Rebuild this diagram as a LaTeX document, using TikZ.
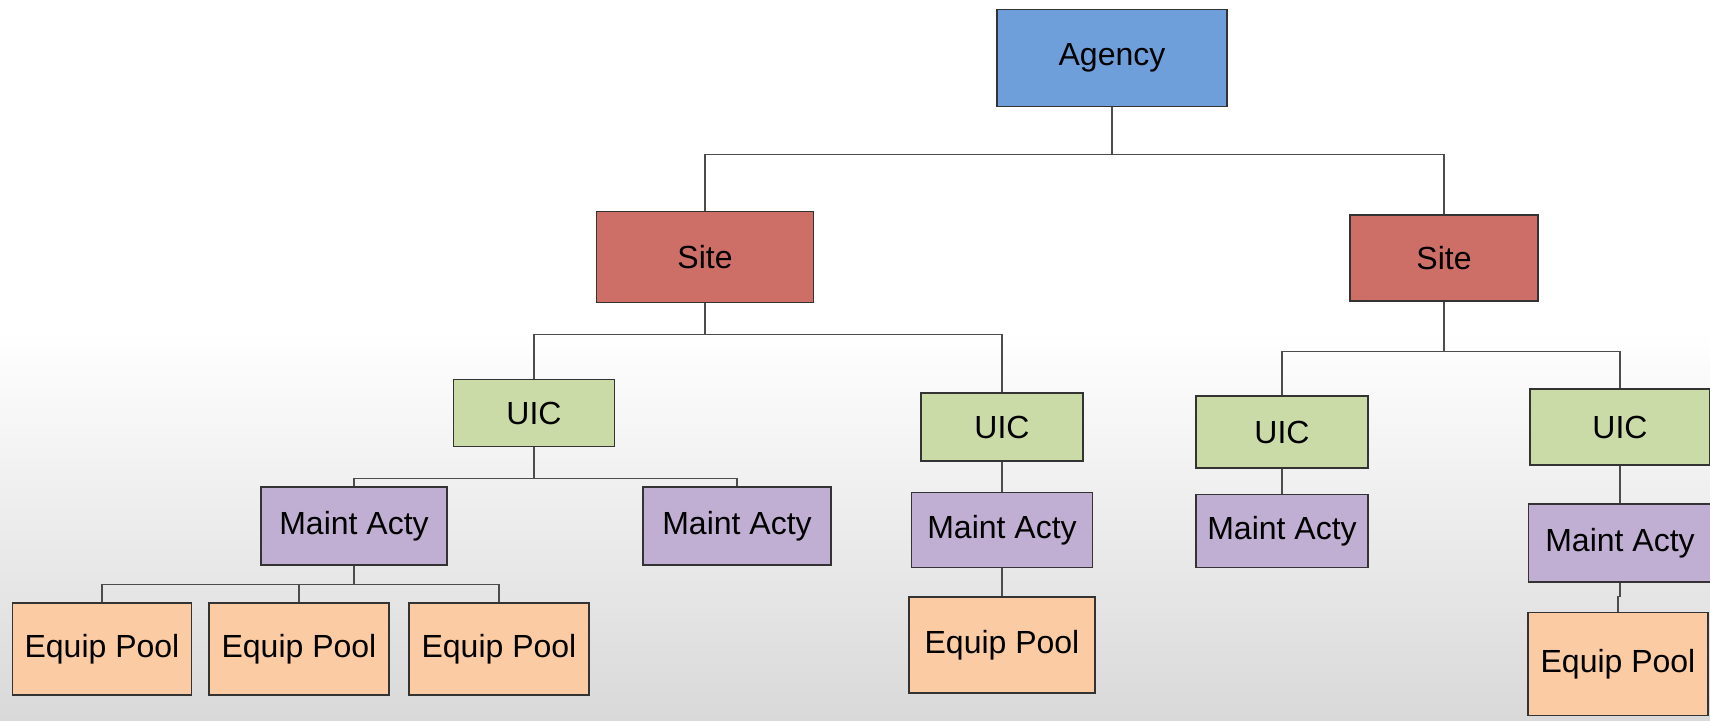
\documentclass[tikz,border=0pt]{standalone}
\usepackage{fontspec}
\setmainfont{Liberation Sans}
\definecolor{agencyblue}{HTML}{6E9FDB}
\definecolor{sitered}{HTML}{CD6F67}
\definecolor{uicgreen}{HTML}{CBDBA8}
\definecolor{actypurple}{HTML}{C0AFD2}
\definecolor{poolorange}{HTML}{FBCBA4}
\tikzset{
  box/.style={draw=black!80, line width=0.7pt, inner sep=0pt, font=\fontsize{16}{19}\selectfont},
  agencybox/.style={box, fill=agencyblue},
  sitebox/.style={box, fill=sitered},
  uicbox/.style={box, fill=uicgreen},
  actybox/.style={box, fill=actypurple},
  poolbox/.style={box, fill=poolorange},
  link/.style={draw=black!70, line width=0.6pt}
}
\begin{document}
\begin{tikzpicture}[x=0.5pt, y=-0.5pt]
      \useasboundingbox (0,0) rectangle (1710,721);
      \fill[white] (0,0) rectangle (1710,330);
      \shade[top color=white, bottom color=gray!30] (0,330) rectangle (1710,721);

      % top and sites
      \node[agencybox, minimum width=115pt, minimum height=48.5pt] (agency) at (1112,58) {Agency};
      \node[sitebox, minimum width=108.5pt, minimum height=45.5pt] (siteA) at (705,257) {Site};
      \node[sitebox, minimum width=94pt, minimum height=43pt] (siteB) at (1444,258) {Site};

      % UICs
      \node[uicbox, minimum width=80.5pt, minimum height=33.5pt] (uicA) at (534,413) {UIC};
      \node[uicbox, minimum width=81pt, minimum height=34pt] (uicB) at (1002,427) {UIC};
      \node[uicbox, minimum width=86pt, minimum height=36pt] (uicC) at (1282,432) {UIC};
      \node[uicbox, minimum width=90pt, minimum height=38pt] (uicD) at (1620,427) {UIC};

      % maintenance activities
      \node[actybox, minimum width=93pt, minimum height=39pt] (actyA) at (354,526) {Maint Acty};
      \node[actybox, minimum width=94pt, minimum height=39pt] (actyB) at (737,526) {Maint Acty};
      \node[actybox, minimum width=90.5pt, minimum height=37.5pt] (actyC) at (1002,530) {Maint Acty};
      \node[actybox, minimum width=86pt, minimum height=36.5pt] (actyD) at (1282,531) {Maint Acty};
      \node[actybox, minimum width=91.5pt, minimum height=39pt] (actyE) at (1620,543) {Maint Acty};

      % equipment pools
      \node[poolbox, minimum width=89.5pt, minimum height=46pt] (poolA) at (102,649) {Equip Pool};
      \node[poolbox, minimum width=90pt, minimum height=46pt] (poolB) at (299,649) {Equip Pool};
      \node[poolbox, minimum width=90pt, minimum height=46pt] (poolC) at (499,649) {Equip Pool};
      \node[poolbox, minimum width=93pt, minimum height=48pt] (poolD) at (1002,645) {Equip Pool};
      \node[poolbox, minimum width=90pt, minimum height=51.5pt] (poolE) at (1618,664) {Equip Pool};

      % connectors
      \draw[link] (agency.south) -- ++(0,47) -| (siteA.north);
      \draw[link] (agency.south) -- ++(0,47) -| (siteB.north);
      \draw[link] (siteA.south) -- ++(0,31) -| (uicA.north);
      \draw[link] (siteA.south) -- ++(0,31) -| (uicB.north);
      \draw[link] (siteB.south) -- ++(0,50) -| (uicC.north);
      \draw[link] (siteB.south) -- ++(0,50) -| (uicD.north);
      \draw[link] (uicA.south) -- ++(0,31) -| (actyA.north);
      \draw[link] (uicA.south) -- ++(0,31) -| (actyB.north);
      \draw[link] (actyA.south) -- ++(0,19) -| (poolA.north);
      \draw[link] (actyA.south) -- ++(0,19) -| (poolB.north);
      \draw[link] (actyA.south) -- ++(0,19) -| (poolC.north);
      \draw[link] (uicB.south) -- (actyC.north);
      \draw[link] (actyC.south) -- (poolD.north);
      \draw[link] (uicC.south) -- (actyD.north);
      \draw[link] (uicD.south) -- (actyE.north);
      \draw[link] (actyE.south) -- ++(0,14) -| (poolE.north);
    \end{tikzpicture}
\end{document}
